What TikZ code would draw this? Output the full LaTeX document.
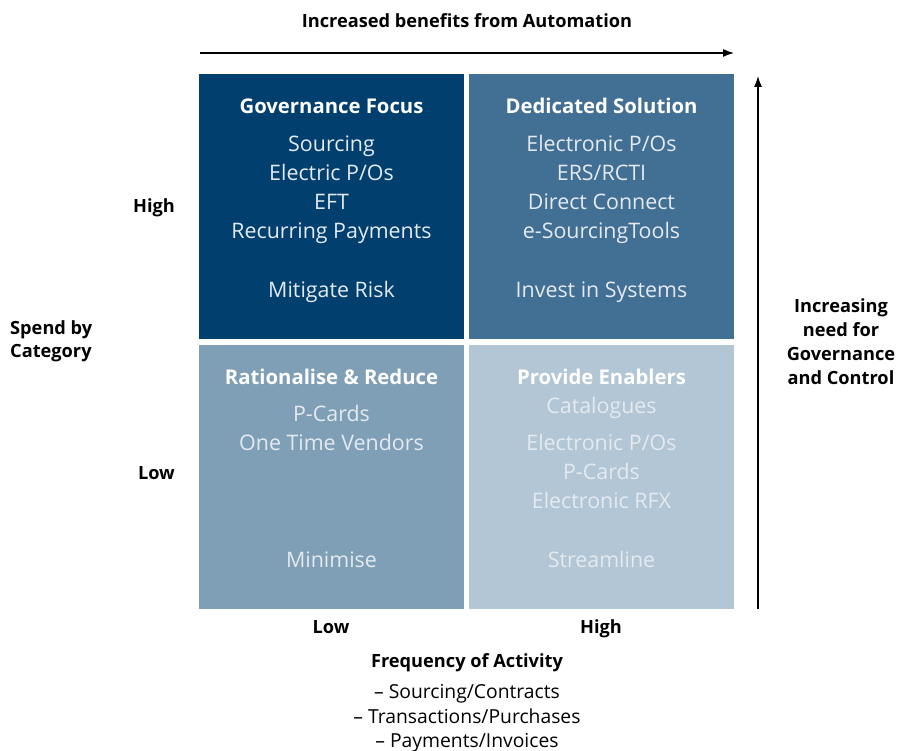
\documentclass[tikz,border=0pt]{standalone}
\usepackage{fontspec}
\setmainfont{Open Sans}
\usetikzlibrary{arrows.meta}
\definecolor{qA}{HTML}{003F6E}
\definecolor{qB}{HTML}{426F94}
\definecolor{qC}{HTML}{7F9FB6}
\definecolor{qD}{HTML}{B3C6D5}
\definecolor{txA}{HTML}{E4EAF0}
\tikzset{
  head/.style={anchor=base, font=\fontsize{20.3}{22}\selectfont\bfseries, text=white, inner sep=0pt},
  item/.style={anchor=base, font=\fontsize{21.4}{24}\selectfont, text=txA, inner sep=0pt},
  lab/.style={anchor=base, font=\fontsize{18.2}{24}\selectfont\bfseries, text=black, inner sep=0pt},
  sub/.style={anchor=base, font=\fontsize{19.3}{24}\selectfont, text=black, inner sep=0pt},
  axis/.style={line width=1.2pt, -{Latex[length=11pt,width=8pt]}}
}
\begin{document}
\begin{tikzpicture}[x=1pt,y=-1pt]
\useasboundingbox (0,0) rectangle (898,751);
\fill[white] (0,0) rectangle (898,751);
% quadrants
\fill[qA] (199,74) rectangle (464,339);
\fill[qB] (469,74) rectangle (734,339);
\fill[qC] (199,345) rectangle (464,609);
\fill[qD] (469,345) rectangle (734,609);
% top-left
\node[head] (h1) at (331.5,114) {Governance Focus};
\node[item] (a1) at (331.5,152) {Sourcing};
\node[item] (a2) at (331.5,181) {Electric P/Os};
\node[item] (a3) at (331.5,210) {EFT};
\node[item] (a4) at (331.5,239) {Recurring Payments};
\node[item] (a5) at (331.5,298) {Mitigate Risk};
% top-right
\node[head] (h2) at (601.5,114) {Dedicated Solution};
\node[item] (b1) at (601.5,152) {Electronic P/Os};
\node[item] (b2) at (601.5,181) {ERS/RCTI};
\node[item] (b3) at (601.5,210) {Direct Connect};
\node[item] (b4) at (601.5,239) {e-SourcingTools};
\node[item] (b5) at (601.5,298) {Invest in Systems};
% bottom-left
\node[head] (h3) at (331.5,385) {Rationalise \& Reduce};
\node[item] (c1) at (331.5,422) {P-Cards};
\node[item] (c2) at (331.5,451) {One Time Vendors};
\node[item] (c3) at (331.5,568) {Minimise};
% bottom-right
\node[head] (h4) at (601.5,385) {Provide Enablers};
\node[item] (d1) at (601.5,414) {Catalogues};
\node[item] (d2) at (601.5,451) {Electronic P/Os};
\node[item] (d3) at (601.5,480) {P-Cards};
\node[item] (d4) at (601.5,509) {Electronic RFX};
\node[item] (d5) at (601.5,568) {Streamline};
% top axis
\node[lab] (tt) at (467,28) {Increased benefits from Automation};
\coordinate (hs) at (200,53);
\coordinate (he) at (734,53);
\draw[axis] (hs) -- (he);
% right axis
\coordinate (vs) at (758,609);
\coordinate (ve) at (758,76);
\draw[axis] (vs) -- (ve);
\node[lab, align=center, anchor=center] (rt) at (841,342) {Increasing\\need for\\Governance\\and Control};
% left labels
\node[lab, anchor=base east] (hh) at (175,213) {High};
\node[lab, anchor=base east] (hl) at (175,480) {Low};
\node[lab, anchor=base west] (s1) at (10,335) {Spend by};
\node[lab, anchor=base west] (s2) at (10,358) {Category};
% bottom labels
\node[lab] (bl) at (331,633) {Low};
\node[lab] (bh) at (601,633) {High};
\node[lab] (fq) at (467,667) {Frequency of Activity};
\node[sub] (f1) at (467,698) {– Sourcing/Contracts};
\node[sub] (f2) at (467,723) {– Transactions/Purchases};
\node[sub] (f3) at (467,747) {– Payments/Invoices};
\end{tikzpicture}
\end{document}
